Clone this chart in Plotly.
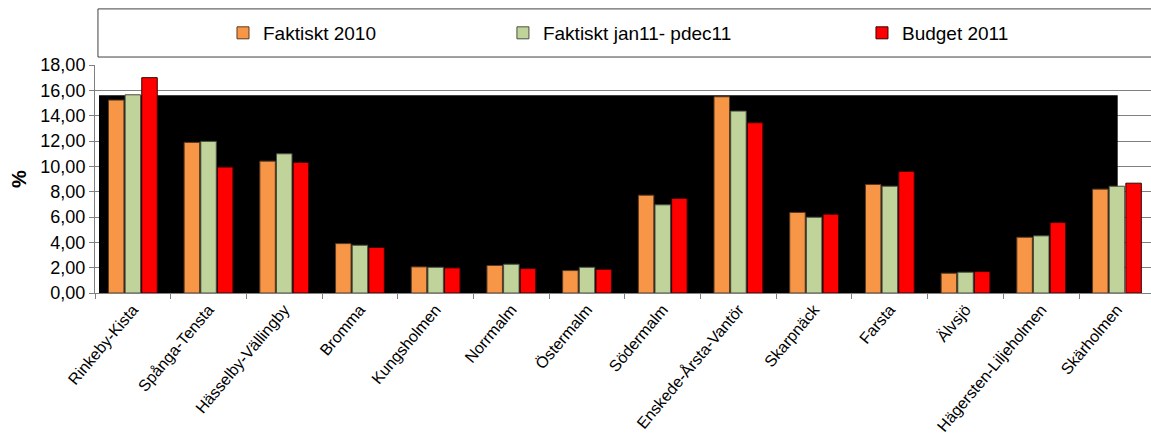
import plotly.graph_objects as go

categories = ["Rinkeby-Kista", "Spånga-Tensta", "Hässelby-Vällingby", "Bromma",
              "Kungsholmen", "Norrmalm", "Östermalm", "Södermalm",
              "Enskede-Årsta-Vantör", "Skarpnäck", "Farsta", "Älvsjö",
              "Hägersten-Liljeholmen", "Skärholmen"]
faktiskt_2010 = [15.23, 11.89, 10.41, 3.90, 2.06, 2.17, 1.77, 7.72, 15.49, 6.36, 8.57, 1.56, 4.40, 8.20]
faktiskt_2011 = [15.65, 11.97, 10.99, 3.77, 2.03, 2.27, 2.03, 6.96, 14.36, 5.98, 8.43, 1.64, 4.51, 8.43]
budget_2011 = [17.00, 9.94, 10.31, 3.59, 1.98, 1.93, 1.87, 7.46, 13.44, 6.22, 9.60, 1.69, 5.56, 8.67]
series_names = ["Faktiskt 2010", "Faktiskt jan11- pdec11", "Budget 2011"]
y_ticks = [0, 2, 4, 6, 8, 10, 12, 14, 16, 18]

FONT = "Arial, 'Liberation Sans', sans-serif"
colors = ["#F79646", "#BFD39B", "#FF0000"]
edge = ["#5a3a20", "#4a5040", "#3a0000"]

fig = go.Figure()
for i, (name, vals) in enumerate(zip(series_names, [faktiskt_2010, faktiskt_2011, budget_2011])):
    fig.add_trace(go.Bar(
        x=categories, y=vals, name=name, showlegend=True,
        marker=dict(color=colors[i], line=dict(color=edge[i], width=1)),
        legend=["legend", "legend2", "legend3"][i],
    ))

# black backdrop inside plot area
fig.add_shape(type="rect", xref="x", yref="y", x0=-0.447, x1=13.01, y0=0, y1=15.62,
              fillcolor="black", line=dict(width=0), layer="between")
# legend frame
fig.add_shape(type="rect", xref="paper", yref="paper", x0=0.0028, x1=1.02, y0=1.035, y1=1.246,
              fillcolor="rgba(0,0,0,0)", line=dict(color="#404040", width=1), layer="above")

leg_common = dict(orientation="h", yanchor="middle", y=1.1405, xanchor="left",
                  font=dict(family=FONT, size=19, color="black"),
                  bgcolor="rgba(0,0,0,0)", borderwidth=0)
fig.update_layout(
    width=1151, height=440,
    margin=dict(l=95, r=0, t=65, b=147, autoexpand=False),
    paper_bgcolor="white", plot_bgcolor="white",
    separators=", ",
    showlegend=True,
    barmode="group", bargap=0.34, bargroupgap=0.07,
    font=dict(family=FONT, color="black"),
    legend=dict(x=0.1212, **leg_common),
    legend2=dict(x=0.3863, **leg_common),
    legend3=dict(x=0.7263, **leg_common),
    xaxis=dict(
        range=[-0.5, 13.45], type="category", automargin=False,
        tickangle=-50, tickfont=dict(family=FONT, size=16, color="black"),
        ticks="outside", ticklen=5, tickcolor="#808080", tickson="boundaries",
        showline=True, linecolor="#808080", linewidth=1, showgrid=False,
    ),
    yaxis=dict(
        range=[0, 18], tickvals=y_ticks, tickformat=".2f", automargin=False,
        tickfont=dict(family=FONT, size=18, color="black"),
        ticks="outside", ticklen=5, tickcolor="#808080",
        showline=True, linecolor="#808080", linewidth=1,
        showgrid=True, gridcolor="#808080", gridwidth=1,
        title=dict(text="<b>%</b>", font=dict(family=FONT, size=20, color="black"), standoff=8),
        zeroline=False,
    ),
)

fig.write_html("out.html")
